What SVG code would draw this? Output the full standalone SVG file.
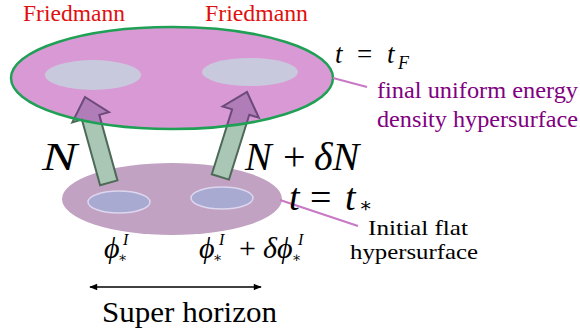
<svg xmlns="http://www.w3.org/2000/svg" width="580" height="333" viewBox="0 0 580 333">
<style>
text{font-family:"Liberation Serif",Tinos,"Noto Serif","DejaVu Serif",FreeSerif,"Times New Roman",Times,serif;}
.it{font-style:italic;}
.red{fill:#e01010;}
.pur{fill:#800080;}
.blk{fill:#000;}
.lead{stroke:#c878c4;stroke-width:2;fill:none;}
</style>
<defs>
<path id="arr" d="M0,0 L19,21 L9,21 L9,89 L-9,89 L-9,21 L-19,21 Z"/>
<clipPath id="topclip"><ellipse cx="172" cy="78" rx="161" ry="51"/></clipPath>
<marker id="ah" viewBox="0 0 10 10" refX="9" refY="5" markerWidth="10" markerHeight="8" orient="auto-start-reverse" markerUnits="userSpaceOnUse">
<path d="M0,1 L10,5 L0,9 Z" fill="#000"/>
</marker>
</defs>
<rect width="580" height="333" fill="#fff"/>

<g id="initial-surface">
<ellipse cx="172" cy="199" rx="110" ry="36" fill="#c2a2c2"/>
<ellipse cx="119" cy="202" rx="31" ry="11" fill="#a9aad2" stroke="#dcd6ee" stroke-width="1.5"/>
<ellipse cx="222" cy="198" rx="31" ry="11" fill="#a9aad2" stroke="#dcd6ee" stroke-width="1.5"/>
</g>

<g id="connectors">
<use href="#arr" transform="translate(85,97) rotate(-15.5)" fill="#a9c7b4" stroke="#4d6a58" stroke-width="2"/>
<use href="#arr" transform="translate(247,92) rotate(17.4)" fill="#a9c7b4" stroke="#4d6a58" stroke-width="2"/>
</g>

<g id="final-surface">
<ellipse cx="172" cy="78" rx="161" ry="51" fill="#d899d5"/>
<ellipse cx="93" cy="75" rx="48" ry="15" fill="#c9c9dd"/>
<ellipse cx="250" cy="72" rx="48" ry="14" fill="#c9c9dd"/>
<g clip-path="url(#topclip)">
<use href="#arr" transform="translate(85,97) rotate(-15.5)" fill="#b07db8" stroke="#6c4a7a" stroke-width="2"/>
<use href="#arr" transform="translate(247,92) rotate(17.4)" fill="#b07db8" stroke="#6c4a7a" stroke-width="2"/>
</g>
<ellipse cx="172" cy="78" rx="161" ry="51" fill="none" stroke="#1fa055" stroke-width="2.5"/>
</g>

<g id="leaders">
<line class="lead" x1="333" y1="78" x2="367" y2="87"/>
<line class="lead" x1="280" y1="200" x2="358" y2="226"/>
<line x1="90" y1="287" x2="261" y2="287" stroke="#000" stroke-width="1.5" marker-start="url(#ah)" marker-end="url(#ah)"/>
</g>

<g id="labels">
<text class="red" x="23" y="21" font-size="24" textLength="102" lengthAdjust="spacingAndGlyphs">Friedmann</text>
<text class="red" x="205" y="21" font-size="24" textLength="103" lengthAdjust="spacingAndGlyphs">Friedmann</text>

<text class="blk" font-size="27" y="63"><tspan class="it" x="335">t</tspan><tspan x="357">=</tspan><tspan class="it" x="387">t</tspan><tspan class="it" font-size="18" x="398" dy="6">F</tspan></text>

<text class="pur" x="377" y="98" font-size="24" textLength="201" lengthAdjust="spacingAndGlyphs">final uniform energy</text>
<text class="pur" x="377" y="127" font-size="24" textLength="201" lengthAdjust="spacingAndGlyphs">density hypersurface</text>

<text class="blk it" x="42" y="170" font-size="40" textLength="35" lengthAdjust="spacingAndGlyphs">N</text>
<text class="blk" y="170" font-size="40"><tspan class="it" x="245">N</tspan><tspan x="283">+</tspan><tspan class="it" x="314">δN</tspan></text>

<text class="blk" font-size="38" y="210"><tspan class="it" x="289">t</tspan><tspan x="310">=</tspan><tspan class="it" x="345">t</tspan><tspan font-size="20" x="359" dy="2">∗</tspan></text>

<text class="blk" x="368" y="235" font-size="21" textLength="100" lengthAdjust="spacingAndGlyphs">Initial flat</text>
<text class="blk" x="350" y="259" font-size="21" textLength="128" lengthAdjust="spacingAndGlyphs">hypersurface</text>

<text class="blk" font-size="30" y="258"><tspan class="it" x="104">ϕ</tspan><tspan font-size="14" x="118" dy="4">∗</tspan><tspan class="it" font-size="16" x="123" dy="-17">I</tspan></text>
<text class="blk" font-size="30" y="258"><tspan class="it" x="199">ϕ</tspan><tspan font-size="14" x="213" dy="4">∗</tspan><tspan class="it" font-size="16" x="219" dy="-17">I</tspan><tspan x="239" dy="13">+</tspan><tspan class="it" x="263">δϕ</tspan><tspan font-size="14" x="292" dy="4">∗</tspan><tspan class="it" font-size="16" x="298" dy="-17">I</tspan></text>

<text class="blk" x="102" y="322" font-size="30" textLength="175" lengthAdjust="spacingAndGlyphs">Super horizon</text>
</g>
</svg>
